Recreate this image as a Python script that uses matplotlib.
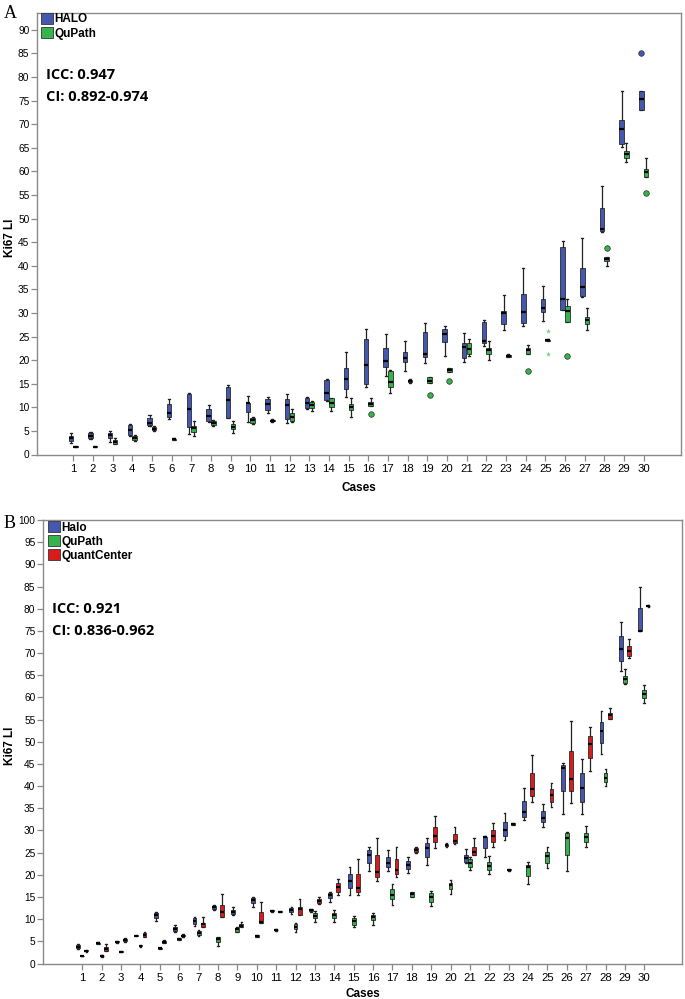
import matplotlib
matplotlib.use("Agg")
import matplotlib.pyplot as plt
from matplotlib.patches import Patch

# ---------------- data ----------------
cases = list(range(1, 31))

# Panel A: (whisker low, Q1, median, Q3, whisker high)
a_halo = [
    (2.5, 2.9, 3.5, 4.0, 4.5), (3.3, 3.4, 4.0, 4.5, 4.7), (2.7, 3.6, 4.1, 4.6, 5.0),
    (4.0, 4.1, 5.2, 6.25, 6.4), (6.0, 6.2, 6.7, 7.7, 8.4), (7.5, 8.0, 8.9, 10.6, 11.7),
    (4.3, 5.9, 9.7, 12.8, 13.0), (6.8, 7.0, 8.15, 9.6, 10.4), (7.7, 7.7, 11.5, 14.2, 14.7),
    (6.95, 9.1, 10.85, 11.0, 12.5), (8.9, 9.4, 10.7, 11.8, 12.1), (6.6, 7.45, 10.4, 11.7, 12.75),
    (9.7, 9.8, 10.85, 12.0, 12.1), (11.4, 11.5, 12.95, 15.8, 16.0), (12.25, 13.9, 16.0, 18.3, 21.65),
    (14.2, 14.9, 19.0, 24.4, 26.5), (16.6, 18.5, 19.9, 22.5, 25.5), (17.75, 19.6, 20.4, 21.8, 24.0),
    (19.45, 20.6, 21.4, 25.95, 27.9), (20.9, 23.9, 25.5, 26.6, 27.2), (19.7, 20.4, 22.85, 23.55, 25.7),
    (23.0, 23.7, 24.1, 28.1, 28.6), (26.4, 27.65, 29.9, 30.4, 33.7), (27.2, 27.9, 30.25, 34.0, 39.45),
    (28.35, 30.25, 31.0, 32.9, 35.7), (30.6, 30.6, 32.9, 44.0, 45.2), (33.3, 33.6, 35.4, 39.45, 45.9),
    (47.1, 47.4, 47.8, 52.2, 56.9), (65.1, 65.9, 68.9, 70.9, 77.1), (73.1, 73.1, 75.25, 77.0, 77.0),
]
a_halo_outliers = {30: [85.0]}

a_qupath = [
    (1.5, 1.55, 1.6, 1.7, 1.75), (1.5, 1.55, 1.65, 1.75, 1.9), (2.2, 2.3, 2.65, 3.0, 3.5),
    (2.9, 3.1, 3.5, 3.9, 4.1), (5.0, 5.1, 5.5, 5.9, 6.0), (3.0, 3.05, 3.2, 3.35, 3.4),
    (3.85, 4.7, 5.7, 6.0, 7.0), (6.1, 6.2, 6.6, 7.0, 7.3), (4.5, 5.3, 5.9, 6.4, 7.2),
    (6.5, 6.7, 7.3, 7.7, 8.0), (6.9, 7.0, 7.2, 7.4, 7.5), (6.9, 7.2, 8.0, 8.7, 9.6),
    (9.3, 9.85, 10.4, 11.1, 11.4), (9.3, 10.0, 10.85, 11.9, 12.0), (8.0, 9.4, 10.1, 10.6, 11.9),
    (10.3, 10.3, 10.7, 11.2, 11.9), (13.1, 14.2, 15.4, 17.75, 17.9), (15.1, 15.3, 15.5, 15.7, 15.9),
    (15.1, 15.1, 15.6, 16.35, 16.5), (17.5, 17.5, 17.9, 18.3, 18.4), (20.9, 21.2, 22.3, 23.55, 24.4),
    (20.0, 21.4, 22.1, 22.6, 24.1), (20.6, 20.7, 20.9, 21.1, 21.2), (21.4, 21.4, 22.1, 22.6, 23.2),
    (24.1, 24.15, 24.25, 24.35, 24.4), (28.1, 28.1, 30.4, 31.5, 33.0), (26.4, 27.65, 28.5, 29.1, 31.0),
    (39.9, 41.1, 41.5, 41.8, 41.8), (62.0, 62.75, 63.6, 64.4, 66.1), (58.9, 58.9, 59.8, 60.5, 62.75),
]
a_qupath_outliers = {16: [8.6], 19: [12.7], 20: [15.6], 24: [17.75], 26: [20.9], 28: [43.8], 30: [55.5]}
a_qupath_extremes = {25: [26.1, 21.3]}

# Panel B
b_halo = [
    (3.3, 3.5, 3.8, 4.1, 4.4), (4.3, 4.4, 4.55, 4.7, 4.8), (4.7, 4.8, 4.9, 5.0, 5.1),
    (6.1, 6.2, 6.3, 6.4, 6.5), (9.6, 10.2, 10.9, 11.45, 11.7), (7.2, 7.4, 7.8, 8.3, 8.6),
    (8.5, 8.9, 9.6, 10.2, 10.55), (12.0, 12.2, 12.65, 13.0, 13.2), (11.0, 11.15, 11.6, 12.05, 12.8),
    (12.8, 13.7, 14.3, 14.8, 14.9), (11.7, 11.8, 11.9, 12.0, 12.1), (11.2, 11.55, 12.0, 12.45, 12.8),
    (11.7, 11.8, 12.05, 12.3, 12.4), (13.9, 14.8, 15.4, 15.8, 16.2), (15.45, 16.95, 18.7, 20.1, 21.8),
    (20.9, 22.7, 24.5, 25.6, 26.3), (20.9, 21.8, 22.7, 24.1, 25.6), (20.3, 21.3, 22.2, 23.1, 24.1),
    (22.2, 24.1, 26.1, 27.1, 28.2), (26.2, 26.4, 26.7, 27.0, 27.2), (22.7, 22.95, 23.7, 24.5, 25.75),
    (24.1, 26.1, 28.5, 28.6, 28.8), (27.85, 28.8, 30.1, 32.0, 33.9), (32.35, 33.1, 34.2, 36.7, 39.5),
    (30.85, 32.0, 32.9, 34.4, 35.9), (33.6, 38.9, 44.1, 44.8, 45.3), (33.6, 36.5, 39.5, 42.9, 46.1),
    (47.2, 49.8, 52.4, 54.5, 56.9), (66.0, 68.3, 70.9, 73.9, 77.1), (75.0, 75.0, 75.0, 80.1, 84.8),
]
b_qupath = [
    (1.6, 1.65, 1.7, 1.75, 1.8), (1.5, 1.6, 1.7, 1.8, 1.9), (2.5, 2.6, 2.7, 2.8, 2.9),
    (3.8, 3.9, 4.0, 4.1, 4.2), (3.2, 3.3, 3.4, 3.5, 3.6), (5.2, 5.4, 5.5, 5.7, 5.8),
    (6.2, 6.4, 6.9, 7.3, 7.6), (4.0, 4.9, 5.6, 5.9, 5.9), (7.0, 7.2, 7.7, 8.1, 8.3),
    (5.9, 6.0, 6.2, 6.4, 6.5), (7.4, 7.5, 7.55, 7.6, 7.7), (7.0, 7.7, 8.2, 8.85, 9.2),
    (9.4, 10.2, 10.8, 11.3, 11.9), (9.4, 10.3, 10.9, 11.45, 12.0), (8.15, 8.7, 9.6, 10.3, 10.8),
    (8.7, 9.8, 10.5, 10.9, 11.3), (13.2, 14.5, 15.45, 16.7, 17.9), (15.0, 15.1, 15.6, 16.05, 16.2),
    (13.0, 13.9, 15.1, 15.8, 16.3), (15.7, 16.7, 17.7, 18.2, 18.8), (21.1, 21.8, 22.7, 23.5, 24.0),
    (20.1, 21.1, 22.0, 22.95, 24.2), (20.9, 21.0, 21.1, 21.2, 21.3), (17.9, 19.7, 21.7, 22.2, 22.9),
    (21.5, 22.7, 24.2, 25.2, 26.2), (20.9, 24.5, 28.2, 29.35, 29.6), (26.3, 27.5, 28.5, 29.5, 31.0),
    (40.0, 41.0, 41.9, 42.9, 43.9), (63.0, 63.2, 64.1, 64.8, 66.3), (58.8, 59.8, 60.7, 61.7, 62.8),
]
b_quant = [
    (2.7, 2.8, 2.9, 3.0, 3.1), (2.8, 2.9, 3.3, 3.8, 4.3), (4.9, 5.0, 5.3, 5.6, 5.8),
    (6.0, 6.05, 6.4, 6.8, 7.1), (4.6, 4.7, 4.9, 5.1, 5.3), (6.0, 6.1, 6.3, 6.5, 6.6),
    (8.2, 8.2, 8.85, 9.2, 10.4), (10.5, 10.55, 11.5, 13.1, 15.7), (8.2, 8.2, 8.5, 8.9, 9.4),
    (9.2, 9.2, 9.4, 11.55, 13.9), (11.5, 11.6, 11.7, 11.8, 11.9), (11.0, 11.0, 12.4, 12.8, 14.6),
    (13.5, 13.6, 14.0, 14.5, 14.9), (15.45, 16.2, 17.3, 18.2, 19.05), (15.45, 16.2, 16.95, 20.1, 23.5),
    (18.6, 19.6, 20.7, 24.5, 28.2), (19.6, 20.1, 21.1, 23.6, 26.3), (25.0, 25.2, 25.6, 26.0, 26.2),
    (26.0, 27.5, 28.75, 30.85, 33.3), (27.0, 27.1, 27.7, 29.1, 30.7), (24.5, 24.5, 25.2, 26.3, 28.2),
    (26.3, 27.5, 28.75, 30.1, 31.6), (31.2, 31.3, 31.45, 31.6, 31.7), (36.5, 37.8, 39.3, 43.0, 47.0),
    (35.2, 36.5, 38.0, 39.35, 40.8), (36.3, 38.9, 41.5, 48.0, 54.7), (43.5, 46.4, 49.4, 51.3, 53.4),
    (55.05, 55.05, 56.0, 56.55, 57.7), (68.8, 69.4, 70.5, 71.6, 73.1), (80.4, 80.5, 80.6, 80.7, 80.8),
]

labels_a = ["HALO", "QuPath"]
labels_b = ["Halo", "QuPath", "QuantCenter"]
yticks_a = list(range(0, 95, 5))
yticks_b = list(range(0, 105, 5))
icc_a = ["ICC: 0.947", "CI: 0.892-0.974"]
icc_b = ["ICC: 0.921", "CI: 0.836-0.962"]

# ---------------- style ----------------
BLUE = "#4358AE"
GREEN = "#34B44A"
RED = "#DB1B1B"
SPINE = "#8A8A8A"
plt.rcParams["font.family"] = ["Liberation Sans", "DejaVu Sans"]

W, H = 685, 999
fig = plt.figure(figsize=(W / 100, H / 100), dpi=100)


def add_ax(l, r, t, b):
    return fig.add_axes([l / W, 1 - b / H, (r - l) / W, (b - t) / H])


def draw(ax, data, offset, width, color, outliers=None):
    stats = []
    for c, (lo, q1, med, q3, hi) in zip(cases, data):
        stats.append(dict(whislo=lo, q1=q1, med=med, q3=q3, whishi=hi,
                          fliers=(outliers or {}).get(c, [])))
    pos = [c + offset for c in cases]
    ax.bxp(stats, positions=pos, widths=width, patch_artist=True,
           showfliers=True, capwidths=width * 0.45, manage_ticks=False,
           boxprops=dict(facecolor=color, edgecolor="#2b2b2b", linewidth=0.6),
           medianprops=dict(color="black", linewidth=1.6),
           whiskerprops=dict(color="#222222", linewidth=0.9),
           capprops=dict(color="#222222", linewidth=0.9),
           flierprops=dict(marker="o", markerfacecolor=color, markeredgecolor="#2b2b2b",
                           markeredgewidth=0.5, markersize=4.0, linestyle="none"))


def style(ax, yticks, ylim, xlim):
    ax.set_xlim(*xlim)
    ax.set_ylim(*ylim)
    ax.set_xticks(cases)
    ax.set_xticklabels([str(c) for c in cases], fontsize=8.2)
    ax.set_yticks(yticks)
    ax.set_yticklabels([str(v) for v in yticks], fontsize=7.3)
    for s in ax.spines.values():
        s.set_color(SPINE)
        s.set_linewidth(1.0)
    ax.tick_params(axis="both", color=SPINE, length=4, width=0.9, pad=1.5)
    ax.tick_params(axis="x", pad=3)
    ax.set_xlabel("Cases", fontsize=8.5, fontweight="bold")
    ax.set_ylabel("Ki67 LI", fontsize=8.5, fontweight="bold")


# ---------------- Panel A ----------------
axA = add_ax(37, 681, 13.3, 454.5)
draw(axA, a_halo, -0.12, 0.23, BLUE, a_halo_outliers)
draw(axA, a_qupath, 0.12, 0.23, GREEN, a_qupath_outliers)
for c, vals in a_qupath_extremes.items():
    axA.scatter([c + 0.12] * len(vals), vals, marker="*", s=16, color="#7FCF8A",
                linewidths=0, zorder=4)
style(axA, yticks_a, (0, 93.5), (-0.84, 31.9))
axA.xaxis.set_label_coords(0.5, -0.062)
axA.yaxis.set_label_coords(-0.033, 0.49)
axA.legend(handles=[Patch(facecolor=BLUE, edgecolor="#333333", linewidth=0.6),
                    Patch(facecolor=GREEN, edgecolor="#333333", linewidth=0.6)],
           labels=labels_a, loc="upper left", bbox_to_anchor=(0.004, 1.003),
           frameon=False, handlelength=1.0, handleheight=1.0, handletextpad=0.15,
           labelspacing=0.15, borderpad=0.1, borderaxespad=0.0,
           prop=dict(size=8.5, weight="bold"))
axA.text(0.014, 0.86, icc_a[0], transform=axA.transAxes, fontsize=10.5,
         fontweight="bold", family="Open Sans", va="center")
axA.text(0.014, 0.81, icc_a[1], transform=axA.transAxes, fontsize=10.5,
         fontweight="bold", family="Open Sans", va="center")
fig.text(4 / W, 1 - 14 / H, "A", family="Liberation Serif", fontsize=13, va="center")

# ---------------- Panel B ----------------
axB = add_ax(43, 682.3, 520, 963.5)
draw(axB, b_halo, -0.21, 0.2, BLUE)
draw(axB, b_qupath, 0.0, 0.2, GREEN)
draw(axB, b_quant, 0.21, 0.2, RED)
style(axB, yticks_b, (0, 100), (-1.03, 31.96))
axB.xaxis.set_label_coords(0.5, -0.055)
axB.yaxis.set_label_coords(-0.043, 0.49)
axB.legend(handles=[Patch(facecolor=BLUE, edgecolor="#333333", linewidth=0.6),
                    Patch(facecolor=GREEN, edgecolor="#333333", linewidth=0.6),
                    Patch(facecolor=RED, edgecolor="#333333", linewidth=0.6)],
           labels=labels_b, loc="upper left", bbox_to_anchor=(0.006, 1.0),
           frameon=False, handlelength=1.0, handleheight=1.0, handletextpad=0.15,
           labelspacing=0.15, borderpad=0.1, borderaxespad=0.0,
           prop=dict(size=8.5, weight="bold"))
axB.text(0.014, 0.80, icc_b[0], transform=axB.transAxes, fontsize=10.5,
         fontweight="bold", family="Open Sans", va="center")
axB.text(0.014, 0.75, icc_b[1], transform=axB.transAxes, fontsize=10.5,
         fontweight="bold", family="Open Sans", va="center")
fig.text(4 / W, 1 - 523 / H, "B", family="Liberation Serif", fontsize=13, va="center")

fig.savefig("out.png", dpi=100)
